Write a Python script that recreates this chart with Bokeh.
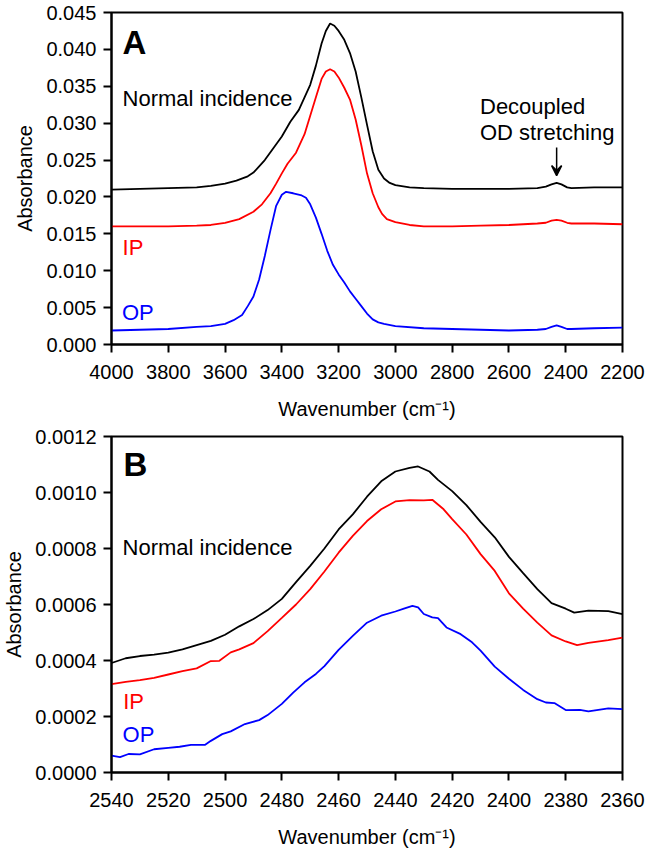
from bokeh.plotting import figure
from bokeh.layouts import column
from bokeh.models import (Range1d, FixedTicker, PrintfTickFormatter, Label,
                          Arrow, VeeHead)
from bokeh.embed import file_html
from bokeh.resources import INLINE

# ---------------- Panel A data (full spectrum) ----------------
a_wn_normal = [4000, 3900, 3800, 3700, 3650, 3600, 3560, 3520, 3500, 3460, 3430,
               3400, 3370, 3340, 3320, 3300, 3280, 3260, 3245, 3230, 3215, 3200,
               3180, 3160, 3140, 3120, 3100, 3080, 3060, 3040, 3020, 3000, 2950,
               2900, 2800, 2700, 2600, 2500, 2470, 2450, 2432, 2415, 2395, 2380,
               2300, 2200]
a_normal = [0.0210, 0.0211, 0.0212, 0.0213, 0.0215, 0.0218, 0.0222, 0.0228, 0.0233,
            0.0250, 0.0266, 0.0282, 0.0302, 0.0318, 0.0335, 0.0352, 0.0378, 0.0408,
            0.0425, 0.0435, 0.0432, 0.0425, 0.0413, 0.0395, 0.0370, 0.0335, 0.0298,
            0.0262, 0.0237, 0.0225, 0.0219, 0.0216, 0.0213, 0.0212, 0.0211, 0.0211,
            0.0211, 0.0212, 0.0214, 0.0217, 0.0219, 0.0217, 0.0213, 0.0212, 0.0213,
            0.0213]

a_wn_ip = [4000, 3800, 3700, 3650, 3600, 3550, 3500, 3470, 3440, 3420, 3400, 3380,
           3350, 3320, 3300, 3280, 3260, 3245, 3230, 3215, 3200, 3180, 3160, 3140,
           3120, 3100, 3080, 3060, 3047, 3030, 3000, 2950, 2900, 2800, 2700, 2600,
           2500, 2470, 2450, 2432, 2415, 2395, 2380, 2300, 2200]
a_ip = [0.0160, 0.0160, 0.0161, 0.0162, 0.0165, 0.0170, 0.0180, 0.0190, 0.0205,
        0.0218, 0.0232, 0.0245, 0.0260, 0.0285, 0.0310, 0.0335, 0.0360, 0.0370,
        0.0373, 0.0370, 0.0362, 0.0348, 0.0332, 0.0305, 0.0270, 0.0232, 0.0205,
        0.0186, 0.0177, 0.0170, 0.0166, 0.0162, 0.0160, 0.0160, 0.0161, 0.0162,
        0.0164, 0.0165, 0.0168, 0.0169, 0.0168, 0.0165, 0.0164, 0.0164, 0.0163]

a_wn_op = [4000, 3900, 3800, 3700, 3650, 3600, 3570, 3540, 3520, 3500, 3480, 3460,
           3440, 3420, 3400, 3385, 3360, 3330, 3315, 3300, 3280, 3260, 3240, 3220,
           3200, 3180, 3160, 3140, 3120, 3100, 3080, 3060, 3040, 3000, 2900, 2800,
           2700, 2600, 2500, 2470, 2450, 2432, 2415, 2395, 2380, 2300, 2200]
a_op = [0.0019, 0.0020, 0.0021, 0.0024, 0.0025, 0.0028, 0.0033, 0.0040, 0.0052,
        0.0065, 0.0088, 0.0120, 0.0155, 0.0188, 0.0203, 0.0207, 0.0205, 0.0202,
        0.0199, 0.0190, 0.0172, 0.0150, 0.0127, 0.0108, 0.0095, 0.0084, 0.0072,
        0.0062, 0.0052, 0.0042, 0.0034, 0.0030, 0.0028, 0.0025, 0.0022, 0.0021,
        0.0020, 0.0019, 0.0020, 0.0021, 0.0024, 0.0026, 0.0024, 0.0021, 0.0021,
        0.0022, 0.0023]

a_xticks = [4000, 3800, 3600, 3400, 3200, 3000, 2800, 2600, 2400, 2200]
a_yticks = [0.000, 0.005, 0.010, 0.015, 0.020, 0.025, 0.030, 0.035, 0.040, 0.045]

# ---------------- Panel B data (OD stretching region) ----------------
b_wn_normal = [2540, 2535, 2530, 2525, 2520, 2515, 2510, 2505, 2500, 2495, 2490,
               2485, 2480, 2475, 2470, 2465, 2460, 2455, 2450, 2445, 2440, 2435,
               2432, 2428, 2425, 2420, 2415, 2410, 2405, 2400, 2395, 2390, 2385,
               2380, 2377, 2372, 2365, 2360]
b_normal = [0.000391, 0.000408, 0.000416, 0.000421, 0.000428, 0.000440, 0.000455,
            0.000470, 0.000492, 0.000522, 0.000548, 0.000580, 0.000620, 0.000680,
            0.000738, 0.000800, 0.000868, 0.000922, 0.000985, 0.001040, 0.001075,
            0.001088, 0.001093, 0.001075, 0.001045, 0.001005, 0.000955, 0.000895,
            0.000840, 0.000770, 0.000712, 0.000655, 0.000605, 0.000585, 0.000571,
            0.000578, 0.000576, 0.000566]

b_wn_ip = [2540, 2535, 2530, 2525, 2520, 2515, 2510, 2505, 2502, 2498, 2495, 2490,
           2485, 2480, 2475, 2470, 2465, 2460, 2455, 2450, 2445, 2440, 2435, 2430,
           2427, 2423, 2420, 2415, 2410, 2405, 2400, 2395, 2390, 2385, 2380, 2376,
           2372, 2365, 2360]
b_ip = [0.000316, 0.000324, 0.000330, 0.000338, 0.000350, 0.000362, 0.000372,
        0.000398, 0.000399, 0.000429, 0.000440, 0.000462, 0.000505, 0.000552,
        0.000600, 0.000655, 0.000718, 0.000785, 0.000845, 0.000898, 0.000940,
        0.000968, 0.000973, 0.000972, 0.000974, 0.000940, 0.000905, 0.000850,
        0.000780, 0.000720, 0.000640, 0.000585, 0.000535, 0.000490, 0.000468,
        0.000455, 0.000463, 0.000473, 0.000482]

b_wn_op = [2540, 2537, 2534, 2530, 2525, 2520, 2516, 2512, 2507, 2505, 2501, 2498,
           2493, 2488, 2485, 2480, 2476, 2472, 2468, 2465, 2460, 2455, 2450, 2445,
           2440, 2437, 2434, 2432, 2430, 2427, 2425, 2422, 2417, 2413, 2410, 2405,
           2400, 2395, 2390, 2387, 2384, 2380, 2375, 2372, 2365, 2360]
b_op = [0.000060, 0.000055, 0.000066, 0.000065, 0.000083, 0.000088, 0.000092,
        0.000099, 0.000099, 0.000113, 0.000137, 0.000147, 0.000173, 0.000187,
        0.000205, 0.000245, 0.000285, 0.000322, 0.000352, 0.000380, 0.000438,
        0.000488, 0.000535, 0.000560, 0.000575, 0.000585, 0.000595, 0.000590,
        0.000566, 0.000554, 0.000551, 0.000518, 0.000494, 0.000465, 0.000435,
        0.000378, 0.000335, 0.000295, 0.000262, 0.000250, 0.000248, 0.000223,
        0.000224, 0.000218, 0.000229, 0.000226]

b_xticks = [2540, 2520, 2500, 2480, 2460, 2440, 2420, 2400, 2380, 2360]
b_yticks = [0.0000, 0.0002, 0.0004, 0.0006, 0.0008, 0.0010, 0.0012]

FONT = "Liberation Sans"
X_TITLE = "Wavenumber (cm\u207b\u00b9)"
Y_TITLE = "Absorbance"


def make_panel(height, border_top, border_bottom, xr, yr, xticks, yticks, yfmt):
    p = figure(width=645, height=height, output_backend="svg", toolbar_location=None,
               tools="", x_range=Range1d(*xr), y_range=Range1d(*yr),
               min_border_left=108, min_border_right=23,
               min_border_top=border_top, min_border_bottom=border_bottom)
    p.background_fill_color = "white"
    p.border_fill_color = "white"
    p.outline_line_color = "black"
    p.outline_line_width = 2
    p.xgrid.visible = False
    p.ygrid.visible = False
    for ax in (p.xaxis[0], p.yaxis[0]):
        ax.axis_line_width = 2
        ax.axis_line_color = "black"
        ax.major_tick_line_width = 2
        ax.major_tick_line_color = "black"
        ax.major_tick_in = 0
        ax.major_tick_out = 8
        ax.minor_tick_line_color = None
        ax.major_label_text_font = FONT
        ax.major_label_text_font_size = "20px"
        ax.major_label_text_color = "black"
        ax.axis_label_text_font = FONT
        ax.axis_label_text_font_size = "20px"
        ax.axis_label_text_font_style = "normal"
        ax.axis_label_text_color = "black"
    p.xaxis.ticker = FixedTicker(ticks=xticks)
    p.yaxis.ticker = FixedTicker(ticks=yticks)
    p.xaxis.formatter = PrintfTickFormatter(format="%d")
    p.yaxis.formatter = PrintfTickFormatter(format=yfmt)
    p.xaxis.major_label_standoff = 12
    p.yaxis.major_label_standoff = 7
    p.xaxis.axis_label_standoff = 16
    p.yaxis.axis_label_standoff = 7
    p.xaxis.axis_label = X_TITLE
    p.yaxis.axis_label = Y_TITLE
    return p


def add_text(p, x, y, text, color="black", size="22px", style="normal"):
    p.add_layout(Label(x=x, y=y, text=text, text_color=color, text_font=FONT,
                       text_font_size=size, text_font_style=style,
                       text_align="left", text_baseline="alphabetic"))


# ---------------- Panel A ----------------
pa = make_panel(422, 12, 75, (4000, 2200), (0, 0.045), a_xticks, a_yticks, "%.3f")
pa.line(a_wn_normal, a_normal, line_color="black", line_width=1.8)
pa.line(a_wn_ip, a_ip, line_color="#ff0000", line_width=1.8)
pa.line(a_wn_op, a_op, line_color="#0000ff", line_width=1.8)
add_text(pa, 3961, 0.0410, "A", size="33px", style="bold")
add_text(pa, 3961, 0.0334, "Normal incidence")
add_text(pa, 2702, 0.0322, "Decoupled")
add_text(pa, 2702, 0.0287, "OD stretching")
add_text(pa, 3961, 0.0132, "IP", color="#ff0000")
add_text(pa, 3963, 0.0043, "OP", color="#0000ff")
pa.add_layout(Arrow(end=VeeHead(size=10, line_width=1.5, line_color="black"),
                    x_start=2432, y_start=0.0267, x_end=2432, y_end=0.0229,
                    line_width=1.5, line_color="black"))

# ---------------- Panel B ----------------
pb = make_panel(428, 14, 78, (2540, 2360), (0, 0.0012), b_xticks, b_yticks, "%.4f")
pb.line(b_wn_normal, b_normal, line_color="black", line_width=1.8)
pb.line(b_wn_ip, b_ip, line_color="#ff0000", line_width=1.8)
pb.line(b_wn_op, b_op, line_color="#0000ff", line_width=1.8)
add_text(pb, 2535.8, 0.00110, "B", size="33px", style="bold")
add_text(pb, 2536.1, 0.000802, "Normal incidence")
add_text(pb, 2535.9, 0.000253, "IP", color="#ff0000")
add_text(pb, 2536.1, 0.000134, "OP", color="#0000ff")

layout = column(pa, pb, spacing=0)
open("out.html", "w").write(file_html(layout, INLINE))
